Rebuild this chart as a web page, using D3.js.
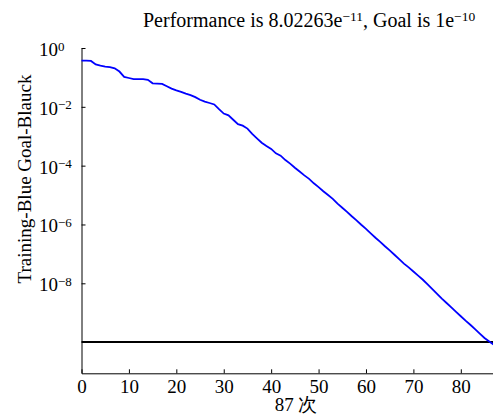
<!DOCTYPE html>
<html>
<head>
<meta charset="utf-8">
<script src="https://cdn.jsdelivr.net/npm/d3@7"></script>
<style>
  body { margin: 0; background: #fff; }
  svg { display: block; font-family: "Liberation Serif", "Times New Roman", serif; }
  .axis path, .axis line { stroke: #000; stroke-width: 1; }
  .axis text { font-family: "Liberation Serif", "Times New Roman", serif; font-size: 19px; fill: #000; }
</style>
</head>
<body>
<div id="chart"></div>
<script>
var fullWidth = 493;
var fullHeight = 415;

// epochs and performance (log10 of training error)
var epochs = d3.range(0, 88);
var logPerf = [
  -0.43, -0.43, -0.44, -0.56, -0.60, -0.63, -0.65, -0.69, -0.80, -0.98,
  -1.02, -1.06, -1.06, -1.06, -1.08, -1.20, -1.21, -1.22, -1.30, -1.38,
  -1.44, -1.49, -1.55, -1.60, -1.67, -1.76, -1.82, -1.87, -1.92, -2.08,
  -2.23, -2.29, -2.44, -2.59, -2.64, -2.74, -2.92, -3.07, -3.22, -3.33,
  -3.43, -3.58, -3.66, -3.81, -3.93, -4.07, -4.20, -4.33, -4.45, -4.60,
  -4.73, -4.87, -5.00, -5.13, -5.29, -5.43, -5.57, -5.72, -5.86, -6.01,
  -6.15, -6.30, -6.45, -6.59, -6.74, -6.88, -7.03, -7.18, -7.33, -7.46,
  -7.60, -7.74, -7.88, -8.04, -8.20, -8.36, -8.52, -8.67, -8.82, -8.97,
  -9.12, -9.27, -9.41, -9.56, -9.71, -9.86, -9.98, -10.096
];
var goal = 1e-10;
var xTicks = [0, 10, 20, 30, 40, 50, 60, 70, 80];
var yTickExp = [0, -2, -4, -6, -8];

var rows = epochs.map(function (e, i) {
    return { epoch: e, perf: Math.pow(10, logPerf[i]) };
});

var plotLeft = 81.5, plotRight = 494, plotTop = 48, plotBottom = 373.3;

var x = d3.scaleLinear()
    .domain([0, 87])
    .range([plotLeft, plotRight]);

var y = d3.scaleLog()
    .domain([Math.pow(10, -11.06), 1])
    .range([plotBottom, plotTop]);

var svg = d3.select("#chart").append("svg")
    .attr("width", fullWidth).attr("height", fullHeight);

// x axis (ticks point inward)
var xAxis = d3.axisBottom(x).tickValues(xTicks).tickSizeInner(-4).tickSizeOuter(0);
var gx = svg.append("g")
    .attr("class", "axis x")
    .attr("transform", "translate(0," + plotBottom + ")")
    .call(xAxis);
gx.selectAll("text").attr("y", 19.4).attr("dy", 0);

// y axis
var yAxis = d3.axisLeft(y)
    .tickValues(yTickExp.map(function (p) { return Math.pow(10, p); }))
    .tickSizeInner(-4).tickSizeOuter(0)
    .tickFormat("");
svg.append("g")
    .attr("class", "axis y")
    .attr("transform", "translate(" + plotLeft + ",0)")
    .call(yAxis);

// tick labels as 10 with superscript
var ylab = svg.append("g").attr("class", "axis");
yTickExp.forEach(function (p) {
    var t = ylab.append("text")
        .attr("x", 39)
        .attr("y", y(Math.pow(10, p)) + 8);
    t.append("tspan").text("10");
    t.append("tspan")
        .attr("dy", -5.5)
        .style("font-size", "13px")
        .text(p === 0 ? "0" : "\u2212" + Math.abs(p));
});

// goal line
svg.append("line")
    .attr("x1", plotLeft).attr("x2", plotRight)
    .attr("y1", y(goal)).attr("y2", y(goal))
    .attr("stroke", "#000")
    .attr("stroke-width", 2);

// training curve
var line = d3.line()
    .x(function (d) { return x(d.epoch); })
    .y(function (d) { return y(d.perf); })
    .curve(d3.curveLinear);

svg.append("path")
    .datum(rows)
    .attr("fill", "none")
    .attr("stroke", "#0000ff")
    .attr("stroke-width", 1.8)
    .attr("d", line);

// title
var title = svg.append("text")
    .attr("x", 143)
    .attr("y", 26.7)
    .style("font-size", "20px");
title.append("tspan").text("Performance is 8.02263e");
title.append("tspan").attr("dy", -6).style("font-size", "13.5px").text("\u221211");
title.append("tspan").attr("dy", 6).text(", Goal is 1e");
title.append("tspan").attr("dy", -6).style("font-size", "13.5px").text("\u221210");

// axis labels
svg.append("text")
    .attr("x", 296)
    .attr("y", 411)
    .attr("text-anchor", "middle")
    .style("font-size", "19px")
    .text("87 次");

svg.append("text")
    .attr("transform", "translate(30.5,179) rotate(-90)")
    .attr("text-anchor", "middle")
    .style("font-size", "19px")
    .text("Training-Blue Goal-Blauck");
</script>
</body>
</html>
